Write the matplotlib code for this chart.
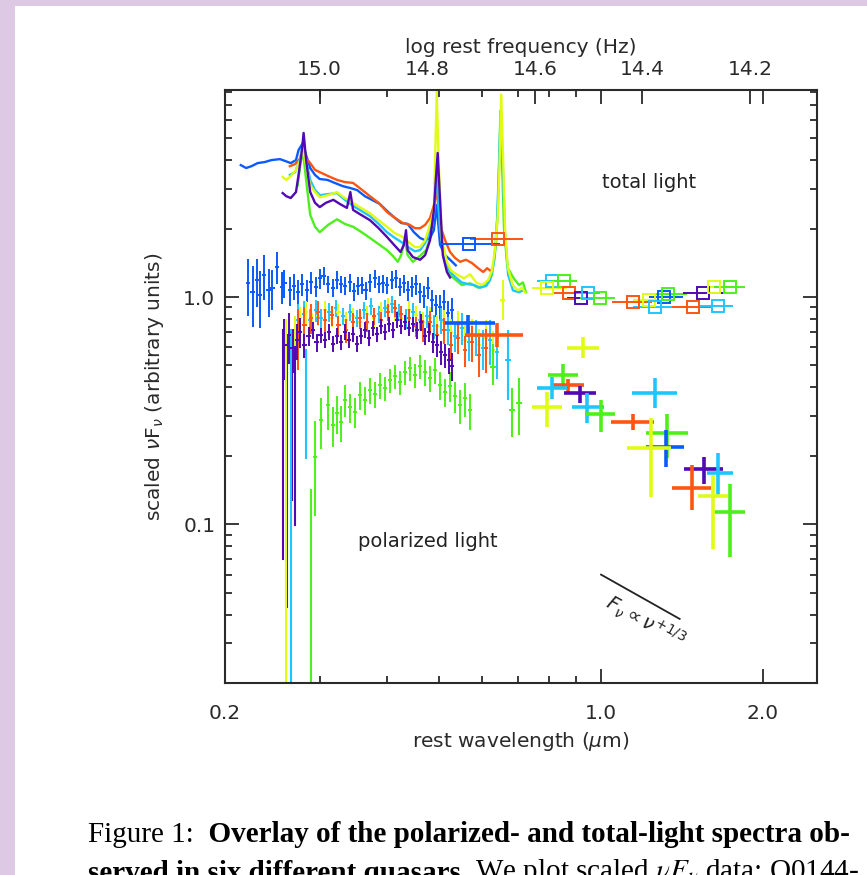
import numpy as np
import matplotlib
matplotlib.use('Agg')
import matplotlib.pyplot as plt
from matplotlib.patches import Rectangle
from matplotlib.ticker import FixedLocator, FixedFormatter, NullFormatter, LogLocator, FormatStrFormatter, NullLocator

plt.rcParams['font.family'] = 'DejaVu Sans'

# colours of the six quasars
cols = {'blue': '#0a5aff', 'orange': '#ff5512', 'cyan': '#1ec6ff',
        'yellow': '#e0fc14', 'green': '#4ef01c', 'purple': '#5208b4'}

# ---- total light spectra (rest wavelength in um, scaled nuFnu) ----
tot_blue_lam = [0.214, 0.219, 0.224, 0.230, 0.237, 0.244, 0.253, 0.259, 0.265, 0.271,
                0.274, 0.279, 0.283, 0.288, 0.294, 0.300, 0.310, 0.320, 0.331, 0.342,
                0.352, 0.364, 0.375, 0.388, 0.402, 0.414, 0.425, 0.437, 0.449, 0.461,
                0.471, 0.481, 0.489, 0.495, 0.502, 0.513, 0.524, 0.537]
tot_blue_val = [3.81, 3.70, 3.77, 3.89, 3.93, 4.01, 4.05, 3.97, 3.89, 4.01,
                4.44, 4.76, 4.22, 3.70, 3.45, 3.31, 3.28, 3.18, 3.08, 3.02,
                2.96, 2.78, 2.68, 2.57, 2.37, 2.23, 2.12, 2.10, 1.93, 1.82,
                1.78, 1.82, 1.97, 2.54, 1.70, 1.53, 1.46, 1.38]

tot_orange_lam = [0.264, 0.270, 0.276, 0.279, 0.283, 0.288, 0.294, 0.300, 0.311, 0.323,
                  0.334, 0.346, 0.356, 0.372, 0.386, 0.400, 0.414, 0.428, 0.441, 0.451,
                  0.461, 0.471, 0.481, 0.489, 0.495, 0.502, 0.513, 0.524, 0.535, 0.547,
                  0.561, 0.576, 0.591, 0.604, 0.614, 0.622]
tot_orange_val = [3.77, 3.85, 4.09, 4.44, 4.09, 3.89, 3.63, 3.55, 3.41, 3.28,
                  3.21, 3.18, 3.02, 2.78, 2.60, 2.37, 2.23, 2.12, 2.08, 2.01,
                  2.01, 2.08, 2.23, 2.54, 2.96, 2.08, 1.78, 1.58, 1.49, 1.43,
                  1.46, 1.41, 1.34, 1.29, 1.34, 1.31]

tot_yellow_lam = [0.256, 0.260, 0.265, 0.271, 0.276, 0.279, 0.283, 0.288, 0.294, 0.300,
                  0.311, 0.323, 0.334, 0.346, 0.356, 0.372, 0.386, 0.400, 0.414, 0.428,
                  0.441, 0.451, 0.461, 0.471, 0.481, 0.489, 0.495, 0.499, 0.506, 0.517,
                  0.526, 0.542, 0.556, 0.571, 0.586, 0.601, 0.617, 0.627, 0.635, 0.643,
                  0.649, 0.652, 0.656, 0.663, 0.671, 0.685, 0.701, 0.713, 0.722]
tot_yellow_val = [3.38, 3.28, 3.41, 3.63, 4.01, 4.53, 3.81, 3.11, 2.90, 2.75,
                  2.81, 2.90, 2.73, 2.60, 2.49, 2.34, 2.18, 2.04, 1.91, 1.84,
                  1.73, 1.66, 1.66, 1.78, 2.08, 2.42, 8.0, 4.01, 1.78, 1.43,
                  1.31, 1.25, 1.21, 1.26, 1.16, 1.13, 1.19, 1.31, 1.62, 2.30,
                  4.50, 7.80, 5.00, 2.00, 1.35, 1.13, 1.07, 1.10, 1.05]

tot_cyan_lam = [0.264, 0.270, 0.276, 0.279, 0.283, 0.288, 0.294, 0.300, 0.311, 0.323,
                0.334, 0.346, 0.356, 0.372, 0.386, 0.400, 0.414, 0.428, 0.441, 0.451,
                0.461, 0.471, 0.481, 0.489, 0.495, 0.502, 0.513, 0.524, 0.537, 0.551,
                0.566, 0.581, 0.596, 0.612, 0.622, 0.633, 0.641, 0.647, 0.651, 0.656,
                0.663, 0.672, 0.686, 0.704, 0.716]
tot_cyan_val = [3.45, 3.55, 4.09, 4.67, 4.01, 3.28, 2.96, 2.81, 2.84, 2.87,
                2.68, 2.52, 2.42, 2.27, 2.10, 1.93, 1.82, 1.73, 1.64, 1.59,
                1.61, 1.73, 1.97, 2.30, 3.63, 1.97, 1.43, 1.29, 1.22, 1.16,
                1.14, 1.13, 1.10, 1.12, 1.19, 1.45, 2.20, 4.20, 6.60, 4.10,
                1.90, 1.25, 1.07, 1.05, 1.07]

tot_green_lam = [0.273, 0.276, 0.279, 0.283, 0.288, 0.294, 0.300, 0.311, 0.323, 0.334,
                 0.346, 0.359, 0.372, 0.386, 0.400, 0.410, 0.419, 0.425, 0.432, 0.437,
                 0.447, 0.461, 0.473, 0.483, 0.491, 0.495, 0.502, 0.513, 0.524, 0.537,
                 0.551, 0.571, 0.591, 0.612, 0.627, 0.638, 0.645, 0.650, 0.654, 0.660,
                 0.670, 0.688, 0.704, 0.716, 0.725]
tot_green_val = [3.11, 3.81, 4.44, 3.28, 2.30, 2.04, 1.93, 2.08, 2.20, 2.10,
                 2.04, 1.93, 1.82, 1.71, 1.61, 1.52, 1.43, 1.53, 1.78, 1.53,
                 1.43, 1.52, 1.61, 1.88, 2.68, 3.28, 1.88, 1.43, 1.25, 1.19,
                 1.13, 1.15, 1.10, 1.13, 1.25, 1.70, 3.00, 6.60, 4.20, 2.00,
                 1.35, 1.21, 1.13, 1.16, 1.05]

tot_purple_lam = [0.256, 0.260, 0.265, 0.271, 0.274, 0.278, 0.280, 0.283, 0.288, 0.294,
                  0.300, 0.308, 0.318, 0.327, 0.337, 0.342, 0.346, 0.356, 0.372, 0.386,
                  0.400, 0.414, 0.424, 0.430, 0.434, 0.437, 0.447, 0.461, 0.471, 0.481,
                  0.489, 0.493, 0.497, 0.502, 0.508, 0.517, 0.524]
tot_purple_val = [2.87, 2.78, 2.73, 2.90, 3.45, 4.44, 5.28, 4.01, 2.90, 2.60,
                  2.49, 2.60, 2.68, 2.57, 2.47, 2.90, 2.42, 2.32, 2.18, 2.01,
                  1.84, 1.68, 1.58, 1.70, 1.97, 1.61, 1.50, 1.46, 1.53, 1.78,
                  2.42, 3.28, 4.31, 2.68, 1.53, 1.29, 1.22]

# ---- total light broad-band photometry ----
tot_phot_lam = [0.569, 0.643, 0.811, 0.853, 0.794, 0.872, 0.918, 0.946, 0.996, 1.147,
                1.23, 1.31, 1.33, 1.26, 1.55, 1.62, 1.74, 1.48, 1.65]
tot_phot_val = [1.71, 1.80, 1.18, 1.18, 1.10, 1.04, 0.99, 1.04, 0.99, 0.951,
                0.970, 1.00, 1.03, 0.904, 1.04, 1.11, 1.11, 0.904, 0.913]
tot_phot_lo = [0.502, 0.571, 0.760, 0.811, 0.744, 0.814, 0.865, 0.895, 0.914, 1.048,
               1.147, 1.23, 1.249, 1.147, 1.42, 1.51, 1.62, 1.357, 1.53]
tot_phot_hi = [0.649, 0.716, 0.903, 0.903, 0.865, 0.966, 0.975, 0.996, 1.062, 1.246,
               1.34, 1.418, 1.444, 1.38, 1.69, 1.79, 1.85, 1.604, 1.76]
tot_phot_col = ['blue', 'orange', 'cyan', 'green', 'yellow', 'orange', 'purple', 'cyan',
                'green', 'orange', 'yellow', 'blue', 'green', 'cyan', 'purple', 'yellow',
                'green', 'orange', 'cyan']

# ---- polarized light spectra (value, fractional error) ----
pol_blue_lam = [0.221, 0.225, 0.229, 0.232, 0.236, 0.241, 0.245, 0.250, 0.255, 0.258,
                0.264, 0.269, 0.273, 0.278, 0.284, 0.289, 0.295, 0.300, 0.305, 0.311,
                0.318, 0.323, 0.329, 0.334, 0.342, 0.347, 0.353, 0.359, 0.365, 0.372,
                0.380, 0.386, 0.393, 0.400, 0.409, 0.416, 0.423, 0.430, 0.437, 0.445,
                0.453, 0.461, 0.469, 0.477, 0.485, 0.493, 0.502, 0.510, 0.519, 0.528]
pol_blue_val = [1.15, 1.05, 1.19, 1.02, 1.25, 1.07, 1.10, 1.36, 1.11, 1.15,
                1.07, 1.12, 1.05, 1.14, 1.07, 1.16, 1.11, 1.21, 1.24, 1.14,
                1.10, 1.19, 1.14, 1.12, 1.16, 1.06, 1.12, 1.13, 1.07, 1.16,
                1.21, 1.14, 1.15, 1.13, 1.19, 1.21, 1.11, 1.15, 1.07, 1.11,
                1.14, 1.05, 1.01, 1.10, 0.97, 0.92, 0.90, 0.95, 0.85, 0.88]
pol_blue_err = [0.28, 0.30, 0.24, 0.28, 0.22, 0.24, 0.20, 0.16, 0.16, 0.14,
                0.15, 0.13, 0.13, 0.11, 0.11, 0.11, 0.10, 0.10, 0.09, 0.09,
                0.09, 0.09, 0.09, 0.09, 0.09, 0.09, 0.09, 0.09, 0.09, 0.09,
                0.09, 0.09, 0.09, 0.09, 0.09, 0.09, 0.09, 0.09, 0.10, 0.10,
                0.10, 0.10, 0.11, 0.11, 0.11, 0.11, 0.13, 0.13, 0.13, 0.13]

pol_orange_lam = [0.273, 0.281, 0.289, 0.298, 0.307, 0.316, 0.325, 0.336, 0.346, 0.356,
                  0.367, 0.378, 0.390, 0.402, 0.414, 0.425, 0.439, 0.453, 0.467, 0.481,
                  0.495, 0.510, 0.526, 0.542, 0.559, 0.576, 0.594, 0.612]
pol_orange_val = [0.680, 0.753, 0.808, 0.859, 0.792, 0.833, 0.753, 0.716, 0.776, 0.808,
                  0.776, 0.825, 0.792, 0.859, 0.894, 0.842, 0.808, 0.745, 0.716, 0.776,
                  0.680, 0.716, 0.615, 0.661, 0.584, 0.633, 0.555, 0.596]
pol_orange_err = [0.30, 0.20, 0.15, 0.12, 0.12, 0.10, 0.10, 0.12, 0.10, 0.10,
                  0.10, 0.09, 0.09, 0.09, 0.09, 0.09, 0.10, 0.10, 0.11, 0.12,
                  0.12, 0.13, 0.14, 0.15, 0.16, 0.18, 0.20, 0.22]

pol_yellow_lam = [0.270, 0.276, 0.283, 0.290, 0.298, 0.307, 0.316, 0.325, 0.336, 0.346,
                  0.356, 0.367, 0.378, 0.390, 0.402, 0.414, 0.425, 0.439, 0.453, 0.467,
                  0.481, 0.495, 0.510, 0.526, 0.542, 0.559, 0.576, 0.594, 0.612, 0.630]
pol_yellow_val = [0.716, 0.808, 0.859, 0.776, 0.825, 0.877, 0.808, 0.859, 0.792, 0.825,
                  0.776, 0.842, 0.808, 0.877, 0.913, 0.859, 0.808, 0.877, 0.833, 0.776,
                  0.808, 0.745, 0.776, 0.702, 0.753, 0.647, 0.687, 0.615, 0.661, 0.584]
pol_yellow_err = [0.15, 0.12, 0.12, 0.10, 0.10, 0.10, 0.09, 0.09, 0.09, 0.09,
                  0.09, 0.09, 0.09, 0.09, 0.09, 0.09, 0.09, 0.10, 0.10, 0.11,
                  0.12, 0.12, 0.13, 0.14, 0.15, 0.16, 0.17, 0.18, 0.20, 0.22]

pol_cyan_lam = [0.273, 0.280, 0.288, 0.295, 0.302, 0.312, 0.322, 0.331, 0.342, 0.352,
                0.362, 0.373, 0.386, 0.397, 0.409, 0.421, 0.434, 0.447, 0.461, 0.475,
                0.489, 0.504, 0.519, 0.535, 0.551, 0.569, 0.586, 0.604, 0.622, 0.640]
pol_cyan_val = [0.792, 0.842, 0.792, 0.877, 0.808, 0.859, 0.894, 0.825, 0.859, 0.808,
                0.877, 0.913, 0.842, 0.894, 0.931, 0.859, 0.808, 0.859, 0.792, 0.825,
                0.745, 0.792, 0.716, 0.674, 0.730, 0.633, 0.674, 0.596, 0.647, 0.573]
pol_cyan_err = [0.18, 0.14, 0.12, 0.11, 0.10, 0.10, 0.09, 0.09, 0.09, 0.09,
                0.09, 0.09, 0.09, 0.09, 0.09, 0.09, 0.10, 0.10, 0.10, 0.11,
                0.12, 0.13, 0.14, 0.15, 0.16, 0.17, 0.18, 0.20, 0.22, 0.24]

pol_purple_lam = [0.258, 0.263, 0.267, 0.272, 0.276, 0.281, 0.286, 0.291, 0.296, 0.301,
                  0.307, 0.312, 0.318, 0.323, 0.329, 0.334, 0.340, 0.346, 0.352, 0.358,
                  0.364, 0.370, 0.377, 0.383, 0.390, 0.397, 0.404, 0.411, 0.418, 0.425,
                  0.432, 0.439, 0.447, 0.455, 0.463, 0.471, 0.479, 0.487, 0.495, 0.504,
                  0.513, 0.521, 0.528]
pol_purple_val = [0.615, 0.680, 0.596, 0.647, 0.702, 0.615, 0.674, 0.716, 0.633, 0.680,
                  0.647, 0.702, 0.621, 0.674, 0.633, 0.702, 0.647, 0.687, 0.621, 0.674,
                  0.716, 0.661, 0.730, 0.687, 0.745, 0.702, 0.760, 0.716, 0.792, 0.745,
                  0.776, 0.730, 0.760, 0.716, 0.776, 0.674, 0.702, 0.633, 0.615, 0.573,
                  0.555, 0.528, 0.497]
pol_purple_err = [0.30, 0.25, 0.22, 0.18, 0.15, 0.12, 0.10, 0.09, 0.09, 0.08,
                  0.08, 0.08, 0.08, 0.08, 0.08, 0.08, 0.08, 0.08, 0.08, 0.08,
                  0.08, 0.08, 0.08, 0.08, 0.08, 0.08, 0.08, 0.08, 0.08, 0.08,
                  0.08, 0.08, 0.08, 0.09, 0.09, 0.09, 0.10, 0.10, 0.11, 0.12,
                  0.12, 0.13, 0.14]

pol_green_lam = [0.294, 0.302, 0.311, 0.318, 0.323, 0.329, 0.334, 0.342, 0.349, 0.356,
                 0.364, 0.372, 0.380, 0.388, 0.397, 0.405, 0.414, 0.423, 0.432, 0.441,
                 0.451, 0.461, 0.471, 0.481, 0.491, 0.502, 0.513, 0.524, 0.535, 0.547,
                 0.559, 0.571]
pol_green_val = [0.197, 0.287, 0.334, 0.273, 0.309, 0.281, 0.352, 0.327, 0.312, 0.370,
                 0.352, 0.389, 0.374, 0.410, 0.398, 0.431, 0.449, 0.422, 0.468, 0.487,
                 0.454, 0.497, 0.468, 0.440, 0.477, 0.410, 0.381, 0.405, 0.366, 0.334,
                 0.359, 0.318]
pol_green_err = [0.45, 0.25, 0.22, 0.20, 0.19, 0.18, 0.16, 0.15, 0.15, 0.14,
                 0.14, 0.13, 0.13, 0.13, 0.12, 0.12, 0.12, 0.12, 0.12, 0.12,
                 0.12, 0.12, 0.13, 0.13, 0.13, 0.14, 0.14, 0.15, 0.16, 0.17,
                 0.17, 0.18]

# low signal-to-noise bins at the blue end (error bar top / bottom)
deep_lam = [0.256, 0.261, 0.266, 0.270, 0.260, 0.265, 0.283, 0.289]
deep_top = [0.716, 0.680, 0.528, 0.647, 0.792, 0.716, 0.584, 0.141]
deep_bot = [0.070, 0.043, 0.128, 0.099, 0.019, 0.019, 0.196, 0.019]
deep_col = ['purple', 'purple', 'purple', 'purple', 'yellow', 'cyan', 'cyan', 'green']

# ---- polarized broad-band points ----
pol_phot_lam = [0.926, 0.850, 0.868, 0.811, 0.914, 0.794, 0.942, 1.000, 1.26, 1.147,
                1.327, 1.32, 1.238, 1.553, 1.65, 1.476, 1.614, 1.738, 0.566, 0.640]
pol_phot_val = [0.596, 0.454, 0.410, 0.397, 0.378, 0.327, 0.327, 0.305, 0.378, 0.281,
                0.252, 0.218, 0.216, 0.175, 0.168, 0.145, 0.133, 0.113, 0.768, 0.680]
pol_phot_lamlo = [0.865, 0.797, 0.814, 0.760, 0.853, 0.744, 0.883, 0.934, 1.142, 1.044,
                  1.21, 1.21, 1.118, 1.426, 1.574, 1.354, 1.514, 1.63, 0.513, 0.559]
pol_phot_lamhi = [0.992, 0.906, 0.930, 0.865, 0.979, 0.846, 1.013, 1.062, 1.385, 1.254,
                  1.45, 1.425, 1.349, 1.686, 1.758, 1.604, 1.722, 1.855, 0.635, 0.716]
pol_phot_lo = [0.539, 0.401, 0.381, 0.355, 0.341, 0.268, 0.278, 0.254, 0.324, 0.259,
               0.195, 0.178, 0.132, 0.151, 0.132, 0.116, 0.078, 0.072, 0.667, 0.603]
pol_phot_hi = [0.667, 0.507, 0.435, 0.445, 0.405, 0.381, 0.378, 0.352, 0.440, 0.305,
               0.305, 0.259, 0.293, 0.197, 0.205, 0.182, 0.164, 0.151, 0.833, 0.768]
pol_phot_col = ['yellow', 'green', 'orange', 'cyan', 'purple', 'yellow', 'cyan', 'green',
                'cyan', 'orange', 'green', 'blue', 'yellow', 'purple', 'cyan', 'orange',
                'yellow', 'green', 'blue', 'orange']

# small polarized points near H-alpha
small_lam = [0.683, 0.704, 0.672, 0.656, 0.630]
small_val = [0.318, 0.341, 0.528, 0.97, 0.49]
small_lamlo = [0.673, 0.694, 0.663, 0.648, 0.622]
small_lamhi = [0.692, 0.713, 0.680, 0.664, 0.638]
small_lo = [0.242, 0.247, 0.352, 0.792, 0.41]
small_hi = [0.397, 0.440, 0.716, 1.19, 0.62]
small_col = ['green', 'green', 'cyan', 'yellow', 'green']

# F_nu ~ nu^(1/3) guide line
slope_lam = [1.0, 1.40]
slope_val = [0.060, 0.0383]

fig = plt.figure(figsize=(8.67, 8.75), dpi=100)
fig.patch.set_facecolor('#ddc9e3')

# page background and caption
bg = fig.add_axes([0, 0, 1, 1], zorder=-1)
bg.set_xlim(0, 1)
bg.set_ylim(0, 1)
bg.axis('off')
bg.add_patch(Rectangle((15 / 867, 0), 1, 1 - 6 / 875, color='white', lw=0))

cap_kw = dict(fontfamily='Liberation Serif', fontsize=21, color='black')
c1 = bg.text(88 / 867, 1 - 842 / 875, 'Figure 1:', va='baseline', **cap_kw)
bg.annotate('  Overlay of the polarized- and total-light spectra ob-', xy=(1, 0),
            xycoords=c1, va='bottom', fontweight='bold', **cap_kw)
c2 = bg.text(88 / 867, 1 - 881 / 875, 'served in six different quasars.', va='baseline',
             fontweight='bold', **cap_kw)
bg.annotate(r' We plot scaled $\nu F_\nu$ data; Q0144-', xy=(1, 0), xycoords=c2,
            va='bottom', math_fontfamily='stix', **cap_kw)

ax = fig.add_axes([225 / 867, 1 - 683 / 875, 592 / 867, 593 / 875])
ax.set_xscale('log')
ax.set_yscale('log')

# total light
for lam, val, c in [(tot_green_lam, tot_green_val, 'green'),
                    (tot_blue_lam, tot_blue_val, 'blue'),
                    (tot_orange_lam, tot_orange_val, 'orange'),
                    (tot_cyan_lam, tot_cyan_val, 'cyan'),
                    (tot_yellow_lam, tot_yellow_val, 'yellow'),
                    (tot_purple_lam, tot_purple_val, 'purple')]:
    ax.plot(lam, val, color=cols[c], lw=1.7)

for i in range(len(tot_phot_lam)):
    l = tot_phot_lam[i]
    ax.errorbar(l, tot_phot_val[i], xerr=[[l - tot_phot_lo[i]], [tot_phot_hi[i] - l]],
                fmt='s', ms=8, mfc='none', mec=cols[tot_phot_col[i]], mew=1.4,
                ecolor=cols[tot_phot_col[i]], elinewidth=1.4, capsize=0)

# polarized light spectra
for i in range(len(deep_lam)):
    ax.plot([deep_lam[i], deep_lam[i]], [deep_bot[i], deep_top[i]], color=cols[deep_col[i]], lw=1.5)

for lam, val, err, c in [(pol_blue_lam, pol_blue_val, pol_blue_err, 'blue'),
                         (pol_green_lam, pol_green_val, pol_green_err, 'green'),
                         (pol_cyan_lam, pol_cyan_val, pol_cyan_err, 'cyan'),
                         (pol_yellow_lam, pol_yellow_val, pol_yellow_err, 'yellow'),
                         (pol_orange_lam, pol_orange_val, pol_orange_err, 'orange'),
                         (pol_purple_lam, pol_purple_val, pol_purple_err, 'purple')]:
    lam = np.array(lam)
    val = np.array(val)
    ax.errorbar(lam, val, yerr=val * np.array(err), xerr=lam * 0.009, fmt='none',
                ecolor=cols[c], elinewidth=1.4, capsize=0)

for i in range(len(small_lam)):
    l, v = small_lam[i], small_val[i]
    ax.errorbar(l, v, xerr=[[l - small_lamlo[i]], [small_lamhi[i] - l]],
                yerr=[[v - small_lo[i]], [small_hi[i] - v]], fmt='none',
                ecolor=cols[small_col[i]], elinewidth=1.5, capsize=0)

for i in range(len(pol_phot_lam)):
    l, v = pol_phot_lam[i], pol_phot_val[i]
    ax.errorbar(l, v, xerr=[[l - pol_phot_lamlo[i]], [pol_phot_lamhi[i] - l]],
                yerr=[[v - pol_phot_lo[i]], [pol_phot_hi[i] - v]], fmt='none',
                ecolor=cols[pol_phot_col[i]], elinewidth=2.6, capsize=0)

# guide line and labels
ax.plot(slope_lam, slope_val, color='#222222', lw=1.3)
ax.text(1.21, 0.037, r'$F_\nu \propto \nu^{+1/3}$', rotation=-29, fontsize=14,
        ha='center', va='center', color='#222222')
ax.text(1.23, 3.18, 'total light', fontsize=14, ha='center', va='center', color='#222222')
ax.text(0.477, 0.084, 'polarized light', fontsize=14, ha='center', va='center', color='#222222')

ax.set_xlim(0.2, 2.52)
ax.set_ylim(0.02, 8.16)

tcol = '#2a2a2a'
for s in ax.spines.values():
    s.set_color(tcol)
    s.set_linewidth(1.5)

ax.xaxis.set_major_locator(FixedLocator([0.2, 1.0, 2.0]))
ax.xaxis.set_major_formatter(FixedFormatter(['0.2', '1.0', '2.0']))
ax.xaxis.set_minor_locator(FixedLocator([0.3, 0.4, 0.5, 0.6, 0.7, 0.8, 0.9]))
ax.xaxis.set_minor_formatter(NullFormatter())
ax.yaxis.set_major_locator(FixedLocator([0.1, 1.0]))
ax.yaxis.set_major_formatter(FixedFormatter(['0.1', '1.0']))
ax.yaxis.set_minor_locator(LogLocator(base=10, subs=np.arange(2, 10)))
ax.yaxis.set_minor_formatter(NullFormatter())

ax.tick_params(which='both', direction='in', top=True, right=True, color=tcol,
               labelcolor=tcol, labelsize=14.5, width=1.3)
ax.tick_params(which='major', length=10)
ax.tick_params(which='minor', length=5)
ax.tick_params(axis='x', which='major', pad=15)
ax.tick_params(axis='y', which='major', pad=7)

ax.set_xlabel(r'rest wavelength ($\mu$m)', fontsize=14.5, color=tcol, labelpad=5)
ax.set_ylabel(r'scaled $\nu$F$_\nu$ (arbitrary units)', fontsize=14.5, color=tcol, labelpad=12)


def lam2nu(l):
    return 14.4768 - np.log10(l)


def nu2lam(n):
    return 10 ** (14.4768 - n)


secax = ax.secondary_xaxis('top', functions=(lam2nu, nu2lam))
secax.xaxis.set_major_locator(FixedLocator([15.0, 14.8, 14.6, 14.4, 14.2]))
secax.xaxis.set_major_formatter(FormatStrFormatter('%.1f'))
secax.xaxis.set_minor_locator(NullLocator())
secax.tick_params(direction='in', length=10, width=1.3, color=tcol, labelcolor=tcol,
                  labelsize=14.5, pad=8)
secax.spines['top'].set_visible(False)
secax.set_xlabel('log rest frequency (Hz)', fontsize=14.5, color=tcol, labelpad=5)

fig.savefig('out.png', dpi=100, facecolor=fig.get_facecolor())
